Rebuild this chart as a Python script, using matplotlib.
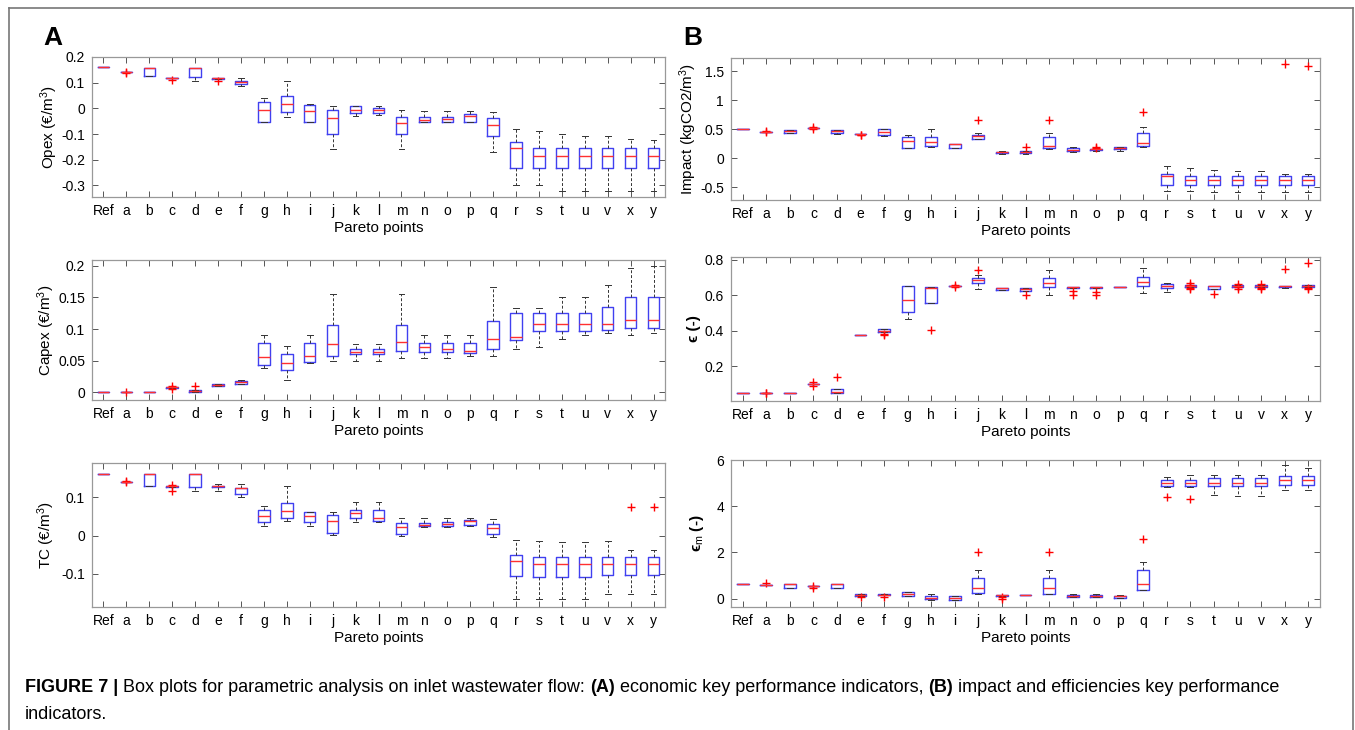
import matplotlib
matplotlib.use('Agg')
import matplotlib.pyplot as plt
from matplotlib.lines import Line2D
from matplotlib.ticker import FuncFormatter

plt.rcParams['font.family'] = ['Liberation Sans', 'DejaVu Sans']
plt.rcParams['axes.unicode_minus'] = False
plt.rcParams['mathtext.fontset'] = 'custom'
plt.rcParams['mathtext.rm'] = 'Liberation Sans'
plt.rcParams['mathtext.it'] = 'Liberation Sans'

labels = ['Ref', 'a', 'b', 'c', 'd', 'e', 'f', 'g', 'h', 'i', 'j', 'k', 'l',
          'm', 'n', 'o', 'p', 'q', 'r', 's', 't', 'u', 'v', 'x', 'y']

# ---- Opex (A, top)
opex_med = [0.16, 0.14, 0.157, 0.118, 0.157, 0.117, 0.103, -0.007, 0.018, -0.01, -0.038, -0.005, -0.007,
            -0.058, -0.044, -0.04, -0.03, -0.065, -0.156, -0.184, -0.184, -0.184, -0.184, -0.184, -0.184]
opex_q1 = [0.16, 0.14, 0.125, 0.117, 0.124, 0.114, 0.095, -0.052, -0.014, -0.054, -0.1, -0.018, -0.018,
           -0.1, -0.054, -0.054, -0.054, -0.108, -0.233, -0.233, -0.233, -0.233, -0.233, -0.233, -0.233]
opex_q3 = [0.16, 0.14, 0.158, 0.119, 0.158, 0.119, 0.108, 0.025, 0.05, 0.013, -0.007, 0.009, 0.0,
           -0.035, -0.034, -0.034, -0.022, -0.039, -0.132, -0.153, -0.153, -0.153, -0.153, -0.153, -0.153]
opex_lo = [0.16, 0.14, 0.125, 0.117, 0.108, 0.114, 0.086, -0.052, -0.035, -0.054, -0.157, -0.029, -0.027,
           -0.157, -0.054, -0.054, -0.054, -0.169, -0.297, -0.297, -0.32, -0.32, -0.32, -0.32, -0.32]
opex_hi = [0.16, 0.14, 0.158, 0.119, 0.158, 0.119, 0.119, 0.04, 0.106, 0.017, 0.01, 0.01, 0.009,
           -0.007, -0.01, -0.01, -0.012, -0.016, -0.082, -0.089, -0.1, -0.108, -0.108, -0.119, -0.123]
opex_out = {'a': [0.138, 0.142], 'c': [0.112], 'e': [0.105]}

# ---- Capex (A, middle)
capex_med = [0, 0, 0.001, 0.008, 0.002, 0.011, 0.016, 0.056, 0.046, 0.058, 0.076, 0.063, 0.063,
             0.08, 0.071, 0.069, 0.065, 0.084, 0.088, 0.108, 0.108, 0.108, 0.108, 0.115, 0.115]
capex_q1 = [0, 0, 0.001, 0.007, 0.001, 0.0105, 0.014, 0.043, 0.035, 0.048, 0.058, 0.06, 0.06,
            0.066, 0.064, 0.064, 0.062, 0.069, 0.083, 0.097, 0.097, 0.097, 0.098, 0.101, 0.101]
capex_q3 = [0, 0, 0.001, 0.009, 0.003, 0.013, 0.018, 0.078, 0.061, 0.078, 0.106, 0.069, 0.069,
            0.106, 0.078, 0.078, 0.078, 0.112, 0.125, 0.125, 0.126, 0.126, 0.135, 0.151, 0.151]
capex_lo = [0, 0, 0.001, 0.007, 0.001, 0.0105, 0.014, 0.038, 0.02, 0.046, 0.05, 0.05, 0.05,
            0.055, 0.055, 0.055, 0.057, 0.058, 0.069, 0.072, 0.085, 0.09, 0.093, 0.09, 0.094]
capex_hi = [0, 0, 0.001, 0.009, 0.004, 0.013, 0.02, 0.09, 0.073, 0.09, 0.156, 0.077, 0.077,
            0.156, 0.09, 0.09, 0.09, 0.166, 0.133, 0.133, 0.151, 0.151, 0.17, 0.197, 0.2]
capex_out = {'a': [0.0], 'c': [0.005, 0.01], 'd': [0.01]}

# ---- TC (A, bottom)
tc_med = [0.162, 0.141, 0.16, 0.129, 0.16, 0.129, 0.124, 0.051, 0.064, 0.051, 0.038, 0.06, 0.047,
          0.022, 0.028, 0.03, 0.037, 0.02, -0.066, -0.075, -0.075, -0.075, -0.075, -0.075, -0.075]
tc_q1 = [0.162, 0.141, 0.129, 0.128, 0.126, 0.126, 0.11, 0.035, 0.047, 0.035, 0.006, 0.045, 0.039,
         0.005, 0.024, 0.025, 0.028, 0.004, -0.107, -0.109, -0.109, -0.109, -0.102, -0.102, -0.102]
tc_q3 = [0.162, 0.141, 0.161, 0.13, 0.161, 0.131, 0.125, 0.068, 0.085, 0.061, 0.054, 0.068, 0.068,
         0.032, 0.034, 0.035, 0.04, 0.029, -0.05, -0.056, -0.056, -0.056, -0.056, -0.056, -0.056]
tc_lo = [0.162, 0.141, 0.129, 0.128, 0.117, 0.117, 0.1, 0.024, 0.039, 0.024, 0.001, 0.035, 0.035,
         0.0, 0.023, 0.023, 0.025, -0.003, -0.167, -0.167, -0.167, -0.167, -0.154, -0.154, -0.154]
tc_hi = [0.162, 0.141, 0.161, 0.13, 0.161, 0.136, 0.136, 0.078, 0.129, 0.063, 0.063, 0.089, 0.089,
         0.047, 0.045, 0.045, 0.047, 0.043, -0.012, -0.014, -0.018, -0.018, -0.014, -0.039, -0.039]
tc_out = {'a': [0.143, 0.139], 'c': [0.133, 0.118], 'x': [0.076], 'y': [0.075]}

# ---- Impact (B, top)
imp_med = [0.5, 0.46, 0.477, 0.53, 0.477, 0.425, 0.455, 0.3, 0.276, 0.24, 0.38, 0.1, 0.1,
           0.22, 0.145, 0.16, 0.17, 0.26, -0.3, -0.368, -0.368, -0.368, -0.368, -0.368, -0.368]
imp_q1 = [0.5, 0.46, 0.44, 0.53, 0.43, 0.425, 0.41, 0.17, 0.22, 0.17, 0.34, 0.09, 0.085,
          0.18, 0.12, 0.15, 0.16, 0.22, -0.46, -0.46, -0.46, -0.46, -0.46, -0.46, -0.46]
imp_q3 = [0.5, 0.46, 0.49, 0.53, 0.49, 0.425, 0.5, 0.37, 0.37, 0.25, 0.4, 0.115, 0.125,
          0.37, 0.17, 0.165, 0.19, 0.44, -0.265, -0.31, -0.31, -0.31, -0.31, -0.31, -0.31]
imp_lo = [0.5, 0.46, 0.44, 0.53, 0.42, 0.425, 0.38, 0.17, 0.195, 0.17, 0.33, 0.08, 0.08,
          0.155, 0.11, 0.12, 0.12, 0.19, -0.563, -0.563, -0.59, -0.59, -0.59, -0.59, -0.59]
imp_hi = [0.5, 0.46, 0.49, 0.53, 0.49, 0.425, 0.5, 0.41, 0.505, 0.25, 0.44, 0.125, 0.13,
          0.44, 0.19, 0.165, 0.2, 0.54, -0.14, -0.16, -0.2, -0.22, -0.22, -0.265, -0.275]
imp_out = {'a': [0.47, 0.45], 'c': [0.535, 0.51], 'e': [0.41, 0.4], 'j': [0.66], 'l': [0.19],
           'm': [0.66], 'o': [0.2, 0.18], 'q': [0.79], 'x': [1.63], 'y': [1.59]}

# ---- epsilon (B, middle)
eps_med = [0.051, 0.051, 0.051, 0.102, 0.055, 0.375, 0.4, 0.572, 0.638, 0.651, 0.687, 0.638, 0.634,
           0.668, 0.647, 0.647, 0.649, 0.674, 0.653, 0.653, 0.65, 0.653, 0.653, 0.65, 0.651]
eps_q1 = [0.051, 0.051, 0.051, 0.102, 0.051, 0.375, 0.394, 0.506, 0.558, 0.651, 0.666, 0.63, 0.625,
          0.647, 0.643, 0.643, 0.649, 0.651, 0.638, 0.649, 0.634, 0.649, 0.649, 0.645, 0.647]
eps_q3 = [0.051, 0.051, 0.051, 0.102, 0.074, 0.375, 0.408, 0.653, 0.649, 0.651, 0.696, 0.641, 0.641,
          0.696, 0.649, 0.649, 0.649, 0.704, 0.664, 0.657, 0.651, 0.657, 0.657, 0.653, 0.655]
eps_lo = [0.051, 0.051, 0.051, 0.102, 0.051, 0.375, 0.394, 0.464, 0.558, 0.651, 0.636, 0.63, 0.625,
          0.604, 0.643, 0.643, 0.649, 0.611, 0.617, 0.649, 0.634, 0.649, 0.649, 0.64, 0.647]
eps_hi = [0.051, 0.051, 0.051, 0.102, 0.074, 0.375, 0.408, 0.653, 0.649, 0.651, 0.711, 0.641, 0.641,
          0.74, 0.649, 0.649, 0.649, 0.755, 0.668, 0.657, 0.651, 0.657, 0.657, 0.653, 0.655]
eps_out = {'a': [0.052, 0.048], 'c': [0.11, 0.09], 'd': [0.138], 'f': [0.383, 0.374], 'h': [0.402],
           'i': [0.66, 0.645], 'j': [0.743], 'l': [0.602], 'n': [0.626, 0.6], 'o': [0.62, 0.6],
           's': [0.67, 0.66, 0.64, 0.635], 't': [0.608], 'u': [0.665, 0.645, 0.637],
           'v': [0.665, 0.64, 0.635], 'x': [0.747], 'y': [0.779, 0.64, 0.635]}

# ---- epsilon_m (B, bottom)
epsm_med = [0.65, 0.58, 0.64, 0.55, 0.64, 0.16, 0.18, 0.19, 0.04, 0.03, 0.46, 0.14, 0.16,
            0.45, 0.12, 0.13, 0.1, 0.62, 4.99, 4.99, 4.99, 4.99, 4.99, 5.12, 5.12]
epsm_q1 = [0.65, 0.58, 0.48, 0.55, 0.48, 0.13, 0.16, 0.1, -0.03, -0.04, 0.25, 0.12, 0.16,
           0.22, 0.09, 0.09, 0.04, 0.36, 4.88, 4.87, 4.86, 4.86, 4.86, 4.94, 4.94]
epsm_q3 = [0.65, 0.58, 0.65, 0.55, 0.65, 0.19, 0.2, 0.29, 0.12, 0.12, 0.91, 0.17, 0.16,
           0.91, 0.14, 0.15, 0.13, 1.22, 5.12, 5.14, 5.22, 5.22, 5.22, 5.3, 5.3]
epsm_lo = [0.65, 0.58, 0.48, 0.55, 0.48, 0.13, 0.16, 0.1, -0.06, -0.04, 0.22, 0.12, 0.16,
           0.2, 0.08, 0.09, 0.04, 0.36, 4.83, 4.84, 4.49, 4.45, 4.45, 4.7, 4.7]
epsm_hi = [0.65, 0.58, 0.65, 0.55, 0.65, 0.19, 0.2, 0.3, 0.19, 0.12, 1.22, 0.17, 0.16,
           1.22, 0.19, 0.19, 0.15, 1.58, 5.26, 5.33, 5.33, 5.33, 5.33, 5.77, 5.64]
epsm_out = {'a': [0.7], 'c': [0.55, 0.45], 'e': [0.07], 'f': [0.08], 'j': [2.01], 'k': [0.06, -0.01],
            'm': [2.01], 'q': [2.57], 'r': [4.41], 's': [4.32]}

W, H = 1355, 730
fig = plt.figure(figsize=(W / 100, H / 100), dpi=100)


def px_axes(x0, y0, x1, y1):
    return fig.add_axes([x0 / W, 1 - y1 / H, (x1 - x0) / W, (y1 - y0) / H])


def draw_panel(ax, med, q1, q3, lo, hi, out, ylim, yticks, ylabel, labelpad=1):
    stats = []
    for i, lab in enumerate(labels):
        stats.append(dict(med=med[i], q1=q1[i], q3=q3[i], whislo=lo[i], whishi=hi[i],
                          fliers=out.get(lab, [])))
    ax.bxp(stats, positions=range(1, len(labels) + 1), widths=0.5, showfliers=True,
           boxprops=dict(color='#4040f0', lw=1.0),
           medianprops=dict(color='#ff3030', lw=1.0),
           whiskerprops=dict(color='#333333', lw=0.7, ls=(0, (3, 2))),
           capprops=dict(color='#333333', lw=0.7),
           flierprops=dict(marker='+', markeredgecolor='#ff0000', markersize=6, mew=1.0, ls='none'))
    ax.set_xlim(0.5, len(labels) + 0.5)
    ax.set_ylim(*ylim)
    ax.set_yticks(yticks)
    ax.yaxis.set_major_formatter(FuncFormatter(lambda v, p: '%g' % round(v, 3)))
    ax.set_xticks(range(1, len(labels) + 1))
    ax.set_xticklabels(labels)
    ax.tick_params(direction='in', top=True, right=True, length=4, width=0.7,
                   color='#555555', labelsize=10, pad=5)
    for s in ax.spines.values():
        s.set_color('#999999')
        s.set_linewidth(0.9)
    ax.set_ylabel(ylabel, fontsize=11, labelpad=labelpad)
    ax.set_xlabel('Pareto points', fontsize=11, labelpad=2)


axA1 = px_axes(92, 57, 665, 197)
draw_panel(axA1, opex_med, opex_q1, opex_q3, opex_lo, opex_hi, opex_out,
           (-0.345, 0.2), [-0.3, -0.2, -0.1, 0, 0.1, 0.2], 'Opex (€/m$^3$)')
axA2 = px_axes(92, 260, 665, 400)
draw_panel(axA2, capex_med, capex_q1, capex_q3, capex_lo, capex_hi, capex_out,
           (-0.012, 0.209), [0, 0.05, 0.1, 0.15, 0.2], 'Capex (€/m$^3$)')
axA3 = px_axes(92, 463, 665, 607)
draw_panel(axA3, tc_med, tc_q1, tc_q3, tc_lo, tc_hi, tc_out,
           (-0.187, 0.19), [-0.1, 0, 0.1], 'TC (€/m$^3$)', labelpad=3)

axB1 = px_axes(731, 58, 1320, 200)
draw_panel(axB1, imp_med, imp_q1, imp_q3, imp_lo, imp_hi, imp_out,
           (-0.72, 1.73), [-0.5, 0, 0.5, 1, 1.5], 'Impact (kgCO2/m$^3$)')
axB2 = px_axes(731, 257, 1320, 401)
draw_panel(axB2, eps_med, eps_q1, eps_q3, eps_lo, eps_hi, eps_out,
           (0.005, 0.815), [0.2, 0.4, 0.6, 0.8], 'ϵ (-)', labelpad=3)
axB3 = px_axes(731, 460, 1320, 607)
draw_panel(axB3, epsm_med, epsm_q1, epsm_q3, epsm_lo, epsm_hi, epsm_out,
           (-0.36, 6.0), [0, 2, 4, 6], r'ϵ$_\mathrm{m}$ (-)', labelpad=7)
for ax in (axB2, axB3):
    ax.yaxis.label.set_fontweight('bold')

# panel letters
fig.text(43 / W, 1 - 45 / H, 'A', fontsize=19, fontweight='bold', va='baseline')
fig.text(683 / W, 1 - 45 / H, 'B', fontsize=19, fontweight='bold', va='baseline')

# page frame (open at the bottom)
frame = dict(color='#777777', lw=1.2, transform=fig.transFigure)
fig.add_artist(Line2D([9 / W, 9 / W], [0, 1 - 8 / H], **frame))
fig.add_artist(Line2D([9 / W, 1353 / W], [1 - 8 / H, 1 - 8 / H], **frame))
fig.add_artist(Line2D([1353 / W, 1353 / W], [0, 1 - 8 / H], **frame))

# caption, pieced together so the bold parts line up
renderer = fig.canvas.get_renderer()
caption = [('FIGURE 7 |', 'bold'), (' Box plots for parametric analysis on inlet wastewater flow: ', 'normal'),
           ('(A)', 'bold'), (' economic key performance indicators, ', 'normal'),
           ('(B)', 'bold'), (' impact and efficiencies key performance', 'normal')]
x = 25
for txt, wt in caption:
    t = fig.text(x / W, 1 - 692 / H, txt, fontsize=13, fontweight=wt, va='baseline')
    x += t.get_window_extent(renderer).width
fig.text(25 / W, 1 - 719 / H, 'indicators.', fontsize=13, va='baseline')

fig.savefig('out.png', dpi=100)
